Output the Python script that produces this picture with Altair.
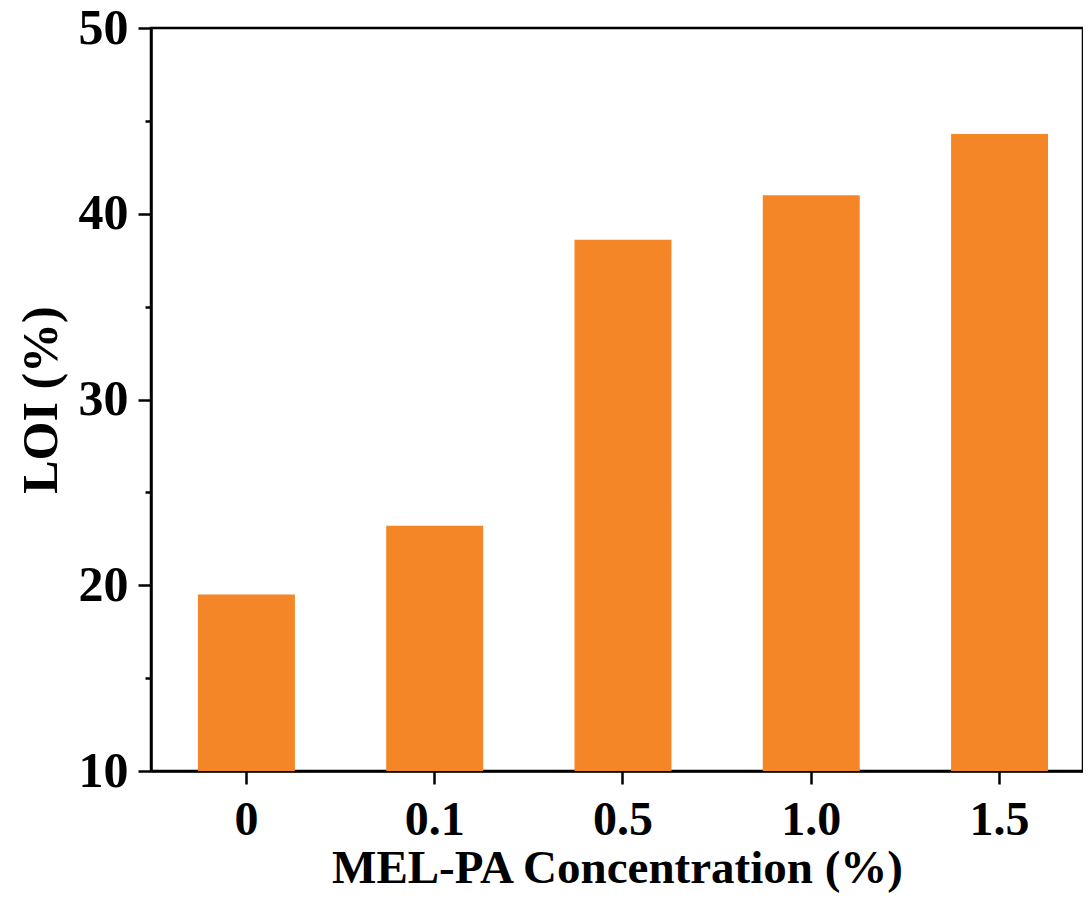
import altair as alt
import pandas as pd

categories = ["0", "0.1", "0.5", "1.0", "1.5"]
loi_values = [19.5, 23.2, 38.6, 41.0, 44.3]
major_ticks = [10, 20, 30, 40, 50]
minor_ticks = [15, 25, 35, 45]

df = pd.DataFrame({"conc": categories, "loi": loi_values})

FONT = "Liberation Serif"
ORANGE = "#F58628"

x_enc = alt.X(
    "conc:N",
    sort=categories,
    scale=alt.Scale(paddingInner=0.485, paddingOuter=0.2175, align=0.573),
    axis=alt.Axis(
        title="MEL-PA Concentration (%)",
        labelAngle=0,
        labelFont=FONT, labelFontSize=48, labelFontWeight="bold", labelColor="black",
        labelPadding=12,
        titleFont=FONT, titleFontSize=47, titleFontWeight="bold", titleColor="black",
        titlePadding=1,
        tickSize=13, tickWidth=2.5, tickColor="black",
        domainColor="black", domainWidth=2.5,
        grid=False,
    ),
)

yscale = alt.Scale(domain=[10, 50], zero=False, nice=False)

bars = alt.Chart(df).mark_bar(color=ORANGE).encode(
    x=x_enc,
    y=alt.Y(
        "loi:Q",
        scale=yscale,
        axis=alt.Axis(
            values=major_ticks,
            title="LOI (%)",
            orient="left",
            labelFont=FONT, labelFontSize=50, labelFontWeight="bold", labelColor="black",
            labelPadding=10,
            titleFont=FONT, titleFontSize=50, titleFontWeight="bold", titleColor="black",
            titlePadding=12,
            tickSize=13, tickWidth=2.5, tickColor="black",
            domainColor="black", domainWidth=2.5,
            grid=False,
        ),
    ),
    y2=alt.datum(10),
)

minor = alt.Chart(df).mark_bar(opacity=0).encode(
    x=x_enc,
    y=alt.Y(
        "loi:Q",
        scale=yscale,
        axis=alt.Axis(
            values=minor_ticks,
            orient="left",
            labels=False,
            title=None,
            domain=False,
            tickSize=6, tickWidth=2.5, tickColor="black",
            grid=False,
        ),
    ),
    y2=alt.datum(10),
)

chart = (
    alt.layer(bars, minor)
    .resolve_axis(y="independent")
    .properties(
        width=932,
        height=743,
        autosize=alt.AutoSizeParams(type="none"),
        padding={"left": 143, "top": 20, "right": 0, "bottom": 122},
        background="white",
    )
    .configure_view(stroke="black", strokeWidth=2.5)
)

chart.save("out.html", embed_options={"renderer": "svg", "actions": False})
